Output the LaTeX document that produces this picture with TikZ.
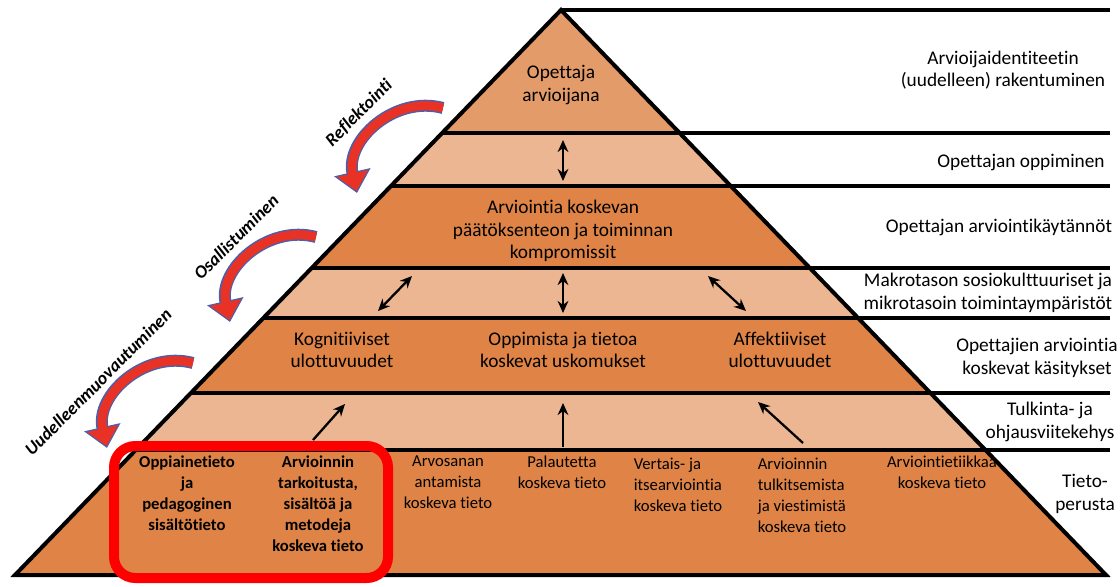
\documentclass[tikz,border=0pt]{standalone}
\usepackage{fontspec}
\setmainfont{Carlito}[Ligatures=NoCommon]
\usetikzlibrary{arrows.meta, positioning}

\definecolor{topband}{RGB}{228,155,106}
\definecolor{darkband}{RGB}{223,132,70}
\definecolor{lightband}{RGB}{235,182,145}
\definecolor{arrowred}{RGB}{232,50,38}
\definecolor{arrowrim}{RGB}{75,95,170}

\begin{document}
\begin{tikzpicture}[x=0.75pt, y=-0.75pt,
    every node/.style={align=center, font=\fontsize{14.5}{17}\selectfont},
    basetext/.style={anchor=north, inner sep=0pt, font=\fontsize{12.5}{15.75}\selectfont},
    turnlabel/.style={font=\fontsize{13.5}{16}\selectfont\bfseries\itshape, rotate=45},
    bandline/.style={line width=2.4pt},
    upward/.style={line width=1.7pt, -{Stealth[length=9pt,width=8pt]}},
    twoway/.style={line width=1.7pt, {Stealth[length=9pt,width=8pt]}-{Stealth[length=9pt,width=8pt]}},
    rim/.style={draw=arrowrim, line width=9pt, -{Triangle[length=16pt,width=27pt]}},
    swoop/.style={draw=arrowred, line width=6.8pt, shorten >=1.5pt, -{Triangle[length=13.5pt,width=23pt]}}]
    \useasboundingbox (0,0) rectangle (1120,586);
    \coordinate (apex) at (561,10);
    \coordinate (bl) at (15,575);
    \coordinate (br) at (1106,575);

    \begin{scope}
        \clip (apex) -- (bl) -- (br) -- cycle;
        \fill[topband] (0,0) rectangle (1120,133);
        \fill[lightband] (0,133) rectangle (1120,186);
        \fill[darkband] (0,186) rectangle (1120,268);
        \fill[lightband] (0,268) rectangle (1120,318);
        \fill[darkband] (0,318) rectangle (1120,393);
        \fill[lightband] (0,393) rectangle (1120,450);
        \fill[darkband] (0,450) rectangle (1120,580);
    \end{scope}
    \begin{scope}
        \clip (apex) -- (bl) -- (1120,575) -- (1120,0) -- cycle;
        \draw[bandline] (0,133) -- (1110,133) (0,186) -- (1110,186)
            (0,268) -- (1110,268) (0,318) -- (1110,318)
            (0,393) -- (1110,393) (0,450) -- (1110,450);
    \end{scope}
    \draw[bandline] (apex) -- (1110,10);
    \draw[line width=3pt] (apex) -- (bl) -- (br) -- cycle;

    \draw[red, line width=7.5pt, rounded corners=16pt] (114,446) rectangle (388,578);

    \node (top) at (561,85) {Opettaja\\arvioijana};
    \node (practice) at (563,231) {Arviointia koskevan\\päätöksenteon ja toiminnan\\kompromissit};
    \node (cog) at (342,350) {Kognitiiviset\\ulottuvuudet};
    \node (belief) at (563,350) {Oppimista ja tietoa\\koskevat uskomukset};
    \node (aff) at (780,350) {Affektiiviset\\ulottuvuudet};

    \node[basetext, font=\fontsize{12.5}{15.75}\selectfont\bfseries] (subject) at (187,456) {Oppiainetieto\\ja\\pedagoginen\\sisältötieto};
    \node[basetext, font=\fontsize{12.5}{15.75}\selectfont\bfseries] (purpose) at (318,456) {Arvioinnin\\tarkoitusta,\\sisältöä ja\\metodeja\\koskeva tieto};
    \node[basetext] (grade) at (448,456) {Arvosanan\\antamista\\koskeva tieto};
    \node[basetext] (feedback) at (562,456) {Palautetta\\koskeva tieto};
    \node[basetext, align=left] (peer) at (678,458) {Vertais- ja\\itsearviointia\\koskeva tieto};
    \node[basetext, align=left] (interp) at (802,458) {Arvioinnin\\tulkitsemista\\ja viestimistä\\koskeva tieto};
    \node[basetext] (ethics) at (942,456) {Arviointietiikkaa\\koskeva tieto};

    \node (identity) at (1003,70) {Arvioijaidentiteetin\\(uudelleen) rakentuminen};
    \node (learning) at (1021,163) {Opettajan oppiminen};
    \node (practices) at (999,227) {Opettajan arviointikäytännöt};
    \node (context) at (988,293) {Makrotason sosiokulttuuriset ja\\mikrotasoin toimintaympäristöt};
    \node (conceptions) at (1037,358) {Opettajien arviointia\\koskevat käsitykset};
    \node (frame) at (1050,422) {Tulkinta- ja\\ohjausviitekehys};
    \node (knowledge) at (1085,494) {Tieto-\\perusta};

    \coordinate (t_1) at (563,140);  \coordinate (b_1) at (563,181);
    \coordinate (t_2) at (412,276);  \coordinate (b_2) at (378,311);
    \coordinate (t_3) at (563,273);  \coordinate (b_3) at (563,313);
    \coordinate (t_4) at (708,276);  \coordinate (b_4) at (746,311);
    \coordinate (t_5) at (345,404);  \coordinate (b_5) at (313,440);
    \coordinate (t_6) at (563,403);  \coordinate (b_6) at (563,447);
    \coordinate (t_7) at (758,402);  \coordinate (b_7) at (803,443);
    \path[twoway]
        (t_1) edge (b_1)
        (t_2) edge (b_2)
        (t_3) edge (b_3)
        (t_4) edge (b_4);
    \path[upward]
        (b_5) edge (t_5)
        (b_6) edge (t_6)
        (b_7) edge (t_7);

    \foreach \dx/\dy in {0/0, -127/129, -250/255} {
        \draw[rim, shift={(\dx,\dy)}] (443,108) .. controls (395,95) and (345,140) .. (357,193);
        \draw[swoop, shift={(\dx,\dy)}] (443,108) .. controls (395,95) and (345,140) .. (357,193);
    }
    \node[turnlabel] (refl) at (359,113) {Reflektointi};
    \node[turnlabel] (part) at (236,237) {Osallistuminen};
    \node[turnlabel] (reshape) at (98,382) {Uudelleenmuovautuminen};
\end{tikzpicture}
\end{document}
